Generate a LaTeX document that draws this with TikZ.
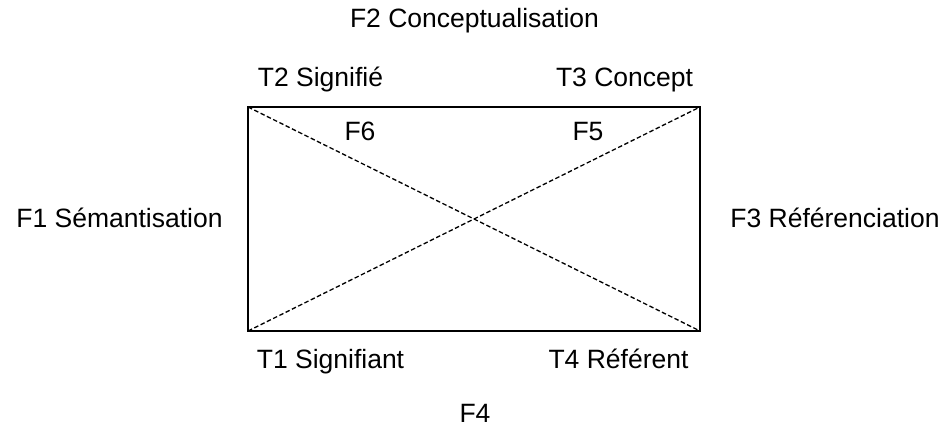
\documentclass[tikz,border=0pt]{standalone}
\usepackage{fontspec}
\setmainfont{Liberation Sans}
\usetikzlibrary{positioning}

\begin{document}
\begin{tikzpicture}[x=1pt, y=-1pt,
    lbl/.style={anchor=base, inner sep=0pt, font=\fontsize{26.5}{31}\selectfont},
    frame/.style={draw=black, line width=1.7pt},
    diag/.style={draw=black, line width=1.3pt, dash pattern=on 4.5pt off 2.5pt}]
\useasboundingbox (0,0) rectangle (941,427);

% corners of the square
\coordinate (sgnf) at (248,107);
\coordinate (cpt)  at (700,107);
\coordinate (sgnt) at (248,331);
\coordinate (ref)  at (700,331);

\draw[frame] (sgnf) -- (cpt) -- (ref) -- (sgnt) -- cycle;
\draw[diag] (sgnf) -- (ref);
\draw[diag] (sgnt) -- (cpt);

% labels
\node[lbl] (f2) at (474.5,28) {F2 Conceptualisation};
\node[lbl] (t2) at (320.5,87) {T2 Signifié};
\node[lbl] (t3) at (624.5,87) {T3 Concept};
\node[lbl] (f6) at (360,141) {F6};
\node[lbl] (f5) at (588,141) {F5};
\node[lbl] (f1) at (119.5,228) {F1 Sémantisation};
\node[lbl] (f3) at (835,228) {F3 Référenciation};
\node[lbl] (t1) at (330.5,368) {T1 Signifiant};
\node[lbl] (t4) at (618.5,368) {T4 Référent};
\node[lbl] (f4) at (475,422) {F4};
\end{tikzpicture}
\end{document}
